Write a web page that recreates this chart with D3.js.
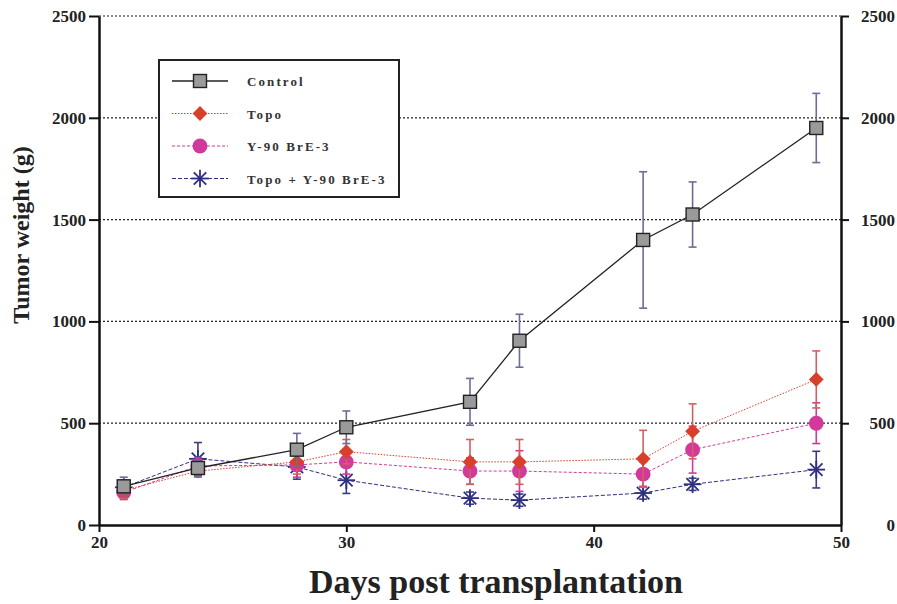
<!DOCTYPE html>
<html>
<head>
<meta charset="utf-8">
<script src="https://cdn.jsdelivr.net/npm/d3@7"></script>
<style>
  body { margin: 0; background: #fff; }
  svg { display: block; font-family: "Liberation Serif", "Times New Roman", serif; }
</style>
</head>
<body>
<div id="chart"></div>
<script>
// ── Data ─────────────────────────────────────────────────────────────────────
const DAYS = [21, 24, 28, 30, 35, 37, 42, 44, 49];

const CONTROL      = [190, 280, 370, 480, 605, 905, 1400, 1525, 1950];
const CONTROL_ERR  = [45, 40, 80, 80, 115, 130, 335, 160, 170];
const TOPO         = [170, 265, 310, 360, 310, 310, 325, 460, 715];
const TOPO_ERR     = [40, 30, 60, 60, 110, 110, 140, 135, 140];
const Y90          = [160, 290, 295, 310, 265, 265, 250, 370, 500];
const Y90_ERR      = [35, 40, 60, 60, 65, 100, 60, 115, 100];
const COMBO        = [185, 325, 285, 220, 132, 122, 157, 200, 272];
const COMBO_ERR    = [35, 80, 60, 65, 30, 30, 30, 30, 90];

const X_TICKS = [20, 30, 40, 50];
const Y_TICKS = [0, 500, 1000, 1500, 2000, 2500];

const SERIES = [
  { name: 'Topo + Y-90 BrE-3', values: COMBO,   err: COMBO_ERR,   color: '#2e2f7e', errColor: '#3b3c80', dash: '4,2',   width: 1, symbol: 'star' },
  { name: 'Y-90 BrE-3',        values: Y90,     err: Y90_ERR,     color: '#d2399a', errColor: '#d2399a', dash: '3,2',   width: 1, symbol: 'circle' },
  { name: 'Topo',              values: TOPO,    err: TOPO_ERR,    color: '#d8402c', errColor: '#d06060', dash: '1.5,1.5', width: 1, symbol: 'diamond' },
  { name: 'Control',           values: CONTROL, err: CONTROL_ERR, color: '#222222', errColor: '#6c6c98', dash: null,    width: 1.3, symbol: 'square' },
];
const LEGEND_ORDER = ['Control', 'Topo', 'Y-90 BrE-3', 'Topo + Y-90 BrE-3'];

// ── Layout ───────────────────────────────────────────────────────────────────
const W = 897, H = 604;
const margin = { top: 16, right: 56, bottom: 79, left: 99 };
const iW = W - margin.left - margin.right;
const iH = H - margin.top - margin.bottom;

const x = d3.scaleLinear().domain([20, 50]).range([0, iW]);
const y = d3.scaleLinear().domain([0, 2500]).range([iH, 0]);

const svg = d3.select('#chart').append('svg')
  .attr('width', W).attr('height', H);
const g = svg.append('g').attr('transform', `translate(${margin.left},${margin.top})`);

// Grid (dotted)
g.append('g').selectAll('line').data(Y_TICKS.filter(d => d > 0)).join('line')
  .attr('x1', 0).attr('x2', iW)
  .attr('y1', d => y(d)).attr('y2', d => y(d))
  .attr('stroke', '#222').attr('stroke-width', 1.2)
  .attr('stroke-dasharray', '2,2');

// Axes
const fmt = d3.format('d');
const axisStyle = sel => {
  sel.select('.domain').attr('stroke', '#111').attr('stroke-width', 2.5);
  sel.selectAll('.tick line').attr('stroke', '#111').attr('stroke-width', 2);
  sel.selectAll('.tick text')
    .attr('fill', '#222')
    .style('font-size', '17px').style('font-weight', 'bold')
    .style('font-family', '"Liberation Serif", "Times New Roman", serif');
};

g.append('g')
  .call(d3.axisLeft(y).tickValues(Y_TICKS).tickFormat(fmt).tickSize(10).tickSizeOuter(0).tickPadding(3))
  .call(axisStyle);

const right = g.append('g').attr('transform', `translate(${iW},0)`)
  .call(d3.axisRight(y).tickValues(Y_TICKS).tickFormat(fmt).tickSize(8).tickSizeOuter(0).tickPadding(3))
  .call(axisStyle);
right.selectAll('.tick text').attr('text-anchor', 'end').attr('x', 54);
right.selectAll('.tick').filter(d => d === 0).select('line').remove();

g.append('g').attr('transform', `translate(0,${iH})`)
  .call(d3.axisBottom(x).tickValues(X_TICKS).tickFormat(fmt).tickSize(7).tickSizeOuter(0).tickPadding(4))
  .call(axisStyle);

// Axis titles
svg.append('text')
  .attr('transform', `translate(29,${235}) rotate(-90)`)
  .attr('text-anchor', 'middle')
  .attr('fill', '#222')
  .style('font-size', '24px').style('font-weight', 'bold')
  .text('Tumor weight (g)');

svg.append('text')
  .attr('x', 496).attr('y', 593)
  .attr('text-anchor', 'middle')
  .attr('fill', '#222')
  .style('font-size', '34px').style('font-weight', 'bold')
  .text('Days post transplantation');

// ── Markers ──────────────────────────────────────────────────────────────────
function drawSymbol(sel, s, size) {
  const k = size / 14;
  if (s.symbol === 'square') {
    sel.append('rect').attr('x', -7 * k).attr('y', -7 * k)
      .attr('width', 14 * k).attr('height', 14 * k)
      .attr('fill', '#9a9a9a').attr('stroke', '#222').attr('stroke-width', 1.4);
  } else if (s.symbol === 'diamond') {
    sel.append('path')
      .attr('d', `M0,${-8 * k}L${8 * k},0L0,${8 * k}L${-8 * k},0Z`)
      .attr('fill', s.color);
  } else if (s.symbol === 'circle') {
    sel.append('circle').attr('r', 8 * k).attr('fill', s.color);
  } else if (s.symbol === 'star') {
    const r = 9.5 * k;
    [0, 45, 90, 135].forEach(a => {
      const rad = a * Math.PI / 180;
      sel.append('line')
        .attr('x1', -r * Math.cos(rad)).attr('y1', -r * Math.sin(rad))
        .attr('x2', r * Math.cos(rad)).attr('y2', r * Math.sin(rad))
        .attr('stroke', s.color).attr('stroke-width', 1.8);
    });
  }
}

const line = d3.line().x((d, i) => x(DAYS[i])).y(d => y(d));

SERIES.forEach(s => {
  const sg = g.append('g');
  // Error bars
  const eb = sg.selectAll('.err').data(s.values).join('g')
    .attr('transform', (d, i) => `translate(${x(DAYS[i])},0)`);
  eb.append('line')
    .attr('y1', (d, i) => y(d + s.err[i])).attr('y2', (d, i) => y(d - s.err[i]))
    .attr('stroke', s.errColor).attr('stroke-width', 1.6);
  eb.append('line')
    .attr('x1', -4).attr('x2', 4)
    .attr('y1', (d, i) => y(d + s.err[i])).attr('y2', (d, i) => y(d + s.err[i]))
    .attr('stroke', s.errColor).attr('stroke-width', 1.6);
  eb.append('line')
    .attr('x1', -4).attr('x2', 4)
    .attr('y1', (d, i) => y(d - s.err[i])).attr('y2', (d, i) => y(d - s.err[i]))
    .attr('stroke', s.errColor).attr('stroke-width', 1.6);
  // Line
  sg.append('path').datum(s.values)
    .attr('d', line).attr('fill', 'none')
    .attr('stroke', s.color).attr('stroke-width', s.width)
    .attr('stroke-dasharray', s.dash);
  // Points
  sg.selectAll('.pt').data(s.values).join('g')
    .attr('transform', (d, i) => `translate(${x(DAYS[i])},${y(d)})`)
    .each(function () { drawSymbol(d3.select(this), s, 13); });
});

// ── Legend ───────────────────────────────────────────────────────────────────
const lg = svg.append('g').attr('transform', 'translate(159,60)');
lg.append('rect').attr('width', 240).attr('height', 137)
  .attr('fill', '#fff').attr('stroke', '#222').attr('stroke-width', 2);

LEGEND_ORDER.forEach((name, i) => {
  const s = SERIES.find(d => d.name === name);
  const ly = 21 + i * 32.5;
  const row = lg.append('g').attr('transform', `translate(0,${ly})`);
  row.append('line').attr('x1', 13).attr('x2', 69)
    .attr('stroke', s.color).attr('stroke-width', s.width)
    .attr('stroke-dasharray', s.dash);
  const m = row.append('g').attr('transform', 'translate(41,0)');
  drawSymbol(m, s, 13);
  row.append('text').attr('x', 88).attr('y', 5)
    .attr('fill', '#333')
    .style('font-size', '13px').style('font-weight', 'bold')
    .style('letter-spacing', '2.1px')
    .text(name);
});
</script>
</body>
</html>
